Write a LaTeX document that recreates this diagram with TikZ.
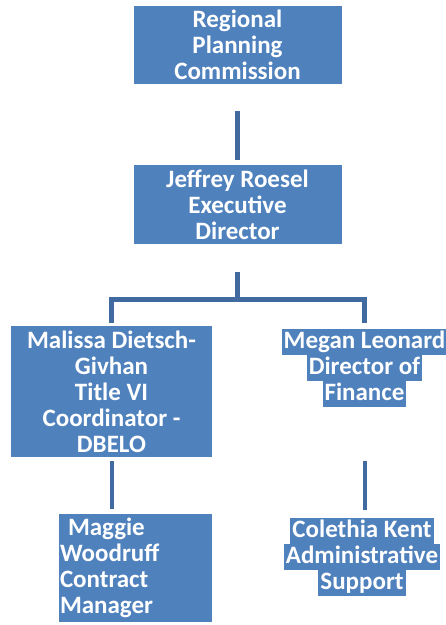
\documentclass[tikz,border=0pt]{standalone}
\usepackage{fontspec}
\setmainfont{Carlito}
\usetikzlibrary{positioning}
\definecolor{orgblue}{RGB}{79,129,189}
\definecolor{orgline}{RGB}{64,106,160}
% highlighted text line (blue band behind the words)
\newcommand{\hlline}[1]{{\setlength{\fboxsep}{0pt}\colorbox{orgblue}{\rule[-6.5pt]{0pt}{26pt}\hspace{2pt}#1\hspace{2pt}}}}

\begin{document}
\begin{tikzpicture}[
  x=1pt, y=-1pt,
  box/.style={rectangle, fill=orgblue, inner sep=0pt, text=white, align=center, font=\fontsize{25}{26}\selectfont\bfseries},
  band/.style={inner sep=0pt, text=white, align=center, font=\fontsize{25}{26}\selectfont\bfseries},
  link/.style={draw=orgline, line width=5pt}
]
\useasboundingbox (0,0) rectangle (446,625);

% Boxes
\node[box, minimum width=208pt, minimum height=78pt] (rpc) at (237.5,45) {Regional\\Planning\\Commission};
\node[box, minimum width=208pt, minimum height=79pt] (director) at (237.5,204.5) {Jeffrey Roesel\\Executive\\Director};
\node[box, minimum width=201pt, minimum height=131pt] (dbelo) at (111.5,391.5) {Malissa Dietsch-\\Givhan\\Title VI\\Coordinator -\\DBELO};
\node[band] (finance) at (364.5,367.5) {\hlline{Megan Leonard}\\\hlline{Director of}\\\hlline{Finance}};
\node[box, minimum width=153pt, minimum height=108pt, text width=151pt, align=left] (contract) at (135.5,568) {\hspace*{8pt}Maggie\\Woodruff\\Contract\\Manager};
\node[band] (admin) at (362,557) {\hlline{Colethia Kent}\\\hlline{Administrative}\\\hlline{Support}};

% Connectors
\coordinate (split) at (237.5,299.5);
\draw[link, shorten <=27pt, shorten >=5pt] (rpc.south) -- (director.north);
\draw[link, shorten <=28pt] (director.south) -- (split);
\draw[link, shorten <=3pt, shorten >=5pt] (dbelo.north) |- (split) -| (finance.north);
\draw[link, line width=4pt, shorten <=4pt, shorten >=5pt] (dbelo.south) -- (dbelo.south |- contract.north);
\draw[link, line width=4pt, shorten <=54pt, shorten >=8pt] (finance.south) -- (finance.south |- admin.north);

\end{tikzpicture}
\end{document}
